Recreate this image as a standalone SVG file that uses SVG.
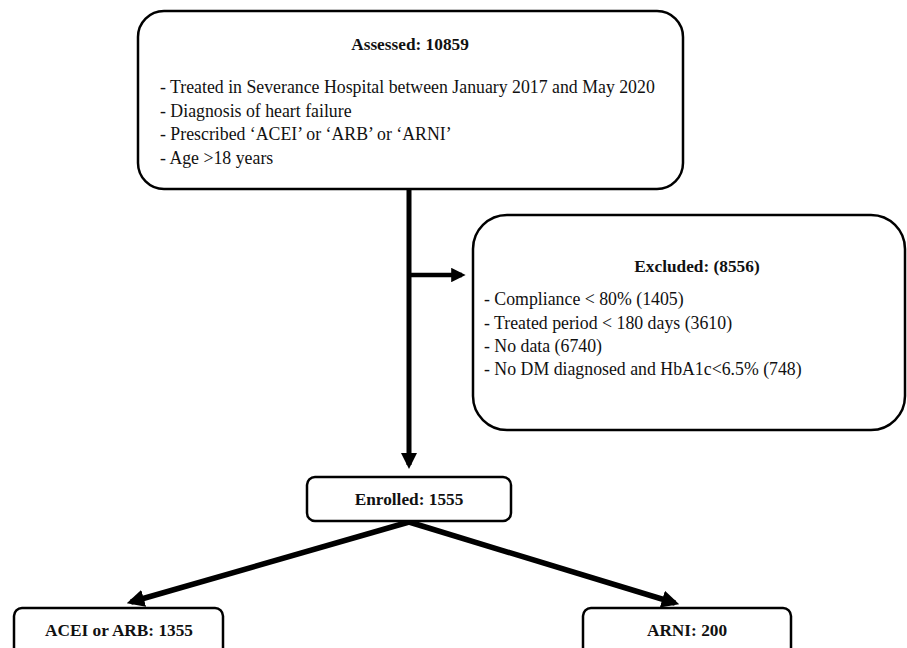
<svg xmlns="http://www.w3.org/2000/svg" width="907" height="648" viewBox="0 0 907 648">
<style>
.box{fill:#fff;stroke:#000;stroke-width:2.5}
.t{font-family:"Liberation Serif","Times New Roman",serif;font-size:17.8px;fill:#111}
.b{font-family:"Liberation Serif","Times New Roman",serif;font-size:17.3px;font-weight:bold;fill:#111;text-anchor:middle}
.ln{stroke:#000;fill:none}
</style>
<defs>
<marker id="ah" markerWidth="3.2" markerHeight="3.2" refX="2.4" refY="1.6" orient="auto" markerUnits="strokeWidth">
<path d="M0,0 L3.2,1.6 L0,3.2 z" fill="#000"/>
</marker>
</defs>
<rect width="907" height="648" fill="#fff"/>
<g id="connectors">
<line class="ln" x1="409" y1="190" x2="409" y2="465" stroke-width="5" marker-end="url(#ah)"/>
<line class="ln" x1="409" y1="275" x2="462" y2="275" stroke-width="4.5" marker-end="url(#ah)"/>
<line class="ln" x1="409" y1="522" x2="131" y2="602" stroke-width="5.5" marker-end="url(#ah)"/>
<line class="ln" x1="409" y1="522" x2="675" y2="603" stroke-width="5.5" marker-end="url(#ah)"/>
</g>
<g id="assessed">
<rect class="box" x="138" y="11" width="545" height="178" rx="26"/>
<text class="b" x="410" y="50">Assessed: 10859</text>
<text class="t" x="160" y="93">- Treated in Severance Hospital between January 2017 and May 2020</text>
<text class="t" x="160" y="116.5">- Diagnosis of heart failure</text>
<text class="t" x="160" y="140">- Prescribed ‘ACEI’ or ‘ARB’ or ‘ARNI’</text>
<text class="t" x="160" y="163.5">- Age &gt;18 years</text>
</g>
<g id="excluded">
<rect class="box" x="473" y="215" width="432" height="215" rx="34"/>
<text class="b" x="697" y="272">Excluded: (8556)</text>
<text class="t" x="484" y="305">- Compliance &lt; 80% (1405)</text>
<text class="t" x="484" y="329">- Treated period &lt; 180 days (3610)</text>
<text class="t" x="484" y="352">- No data (6740)</text>
<text class="t" x="484" y="375">- No DM diagnosed and HbA1c&lt;6.5% (748)</text>
</g>
<g id="enrolled">
<rect class="box" x="307" y="477" width="204" height="44" rx="8"/>
<text class="b" x="409" y="505">Enrolled: 1555</text>
</g>
<g id="acei">
<rect class="box" x="14" y="608" width="209" height="60" rx="8"/>
<text class="b" x="119" y="636">ACEI or ARB: 1355</text>
</g>
<g id="arni">
<rect class="box" x="583" y="608" width="208" height="60" rx="8"/>
<text class="b" x="687" y="636">ARNI: 200</text>
</g>
</svg>
